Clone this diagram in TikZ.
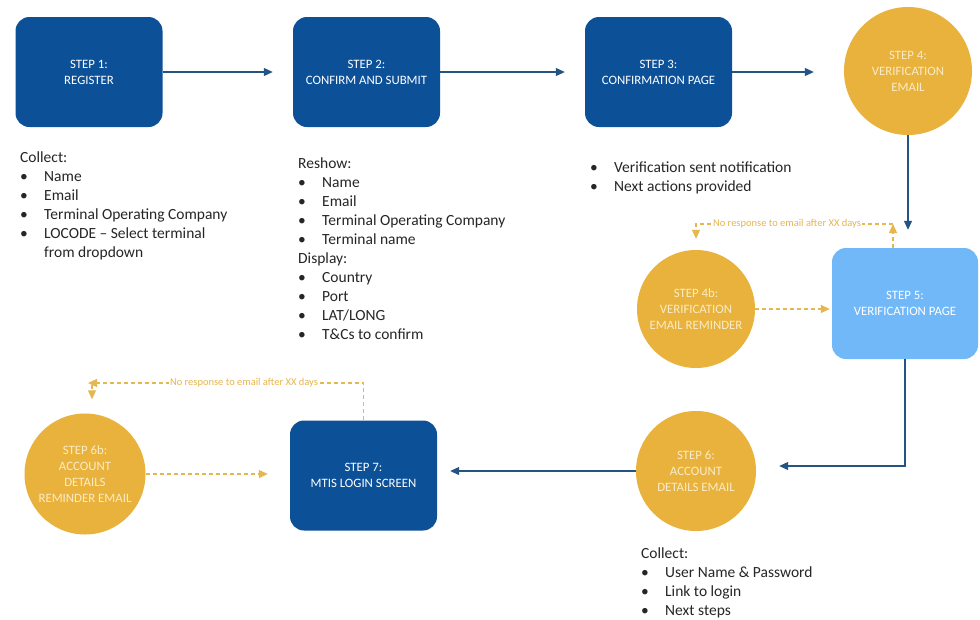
\documentclass[tikz,border=0pt]{standalone}
\usepackage{fontspec}
\setmainfont{Carlito}
\usetikzlibrary{arrows.meta,positioning,calc}
\definecolor{dblue}{RGB}{12,80,152}
\definecolor{lblue}{RGB}{112,184,248}
\definecolor{gold}{RGB}{232,178,60}
\definecolor{arrblue}{RGB}{36,84,132}
\definecolor{dashgold}{RGB}{230,182,80}
\definecolor{cream}{RGB}{250,236,200}
\newcommand{\bul}{\makebox[24pt][l]{\textbullet}}
\tikzset{
  x=1pt,y=-1pt,
  stepbox/.style={rectangle,rounded corners=14pt,fill=dblue,minimum width=147pt,minimum height=110pt,
    text=white,align=center,font=\fontsize{12.8}{16}\selectfont,inner sep=0pt},
  vbox/.style={stepbox,fill=lblue,minimum width=146pt,minimum height=111pt},
  goldcirc/.style={circle,fill=gold,text=cream,align=center,font=\fontsize{12.8}{16}\selectfont,inner sep=0pt},
  flow/.style={draw=arrblue,line width=1.2pt,-{Triangle[length=9pt,width=8pt]}},
  dflow/.style={draw=dashgold,line width=1.1pt,dash pattern=on 4pt off 3pt,-{Triangle[length=9pt,width=8pt]}},
  notelabel/.style={fill=white,text=dashgold,font=\fontsize{10.5}{12}\selectfont,inner sep=1pt},
  listtext/.style={anchor=north west,align=left,inner sep=0pt,font=\fontsize{15.5}{19}\selectfont,text=black!85}
}
\begin{document}
\begin{tikzpicture}
\useasboundingbox (0,0) rectangle (980,619);
\fill[white] (0,0) rectangle (980,619);
% nodes
\node[stepbox] (b1) at (89,72) {STEP 1:\\REGISTER};
\node[stepbox] (b2) at (366.5,72) {STEP 2:\\CONFIRM AND SUBMIT};
\node[stepbox] (b3) at (658.5,72) {STEP 3:\\CONFIRMATION PAGE};
\node[goldcirc,minimum size=128pt] (c4) at (908,71) {STEP 4:\\VERIFICATION\\EMAIL};
\node[vbox] (b5) at (905,303.5) {STEP 5:\\VERIFICATION PAGE};
\node[goldcirc,minimum size=118pt] (c4b) at (696,309) {STEP 4b:\\VERIFICATION\\EMAIL REMINDER};
\node[goldcirc,minimum size=120pt] (c6) at (696,471) {STEP 6:\\ACCOUNT\\DETAILS EMAIL};
\node[stepbox] (b7) at (363.5,475.5) {STEP 7:\\MTIS LOGIN SCREEN};
\node[goldcirc,minimum size=121pt] (c6b) at (85,474) {STEP 6b:\\ACCOUNT\\DETAILS\\REMINDER EMAIL};
% lists
\node[listtext] (l1) at (20,148.7) {\strut Collect:\\\bul Name\\\bul Email\\\bul Terminal Operating Company\\\bul LOCODE -- Select terminal\\\hspace*{24pt}from dropdown};
\node[listtext] (l2) at (298,154.7) {\strut Reshow:\\\bul Name\\\bul Email\\\bul Terminal Operating Company\\\bul Terminal name\\Display:\\\bul Country\\\bul Port\\\bul LAT/LONG\\\bul T\&Cs to confirm};
\node[listtext] (l3) at (590,158.7) {\strut\bul Verification sent notification\\\bul Next actions provided};
\node[listtext] (l4) at (641,544.5) {\strut Collect:\\\bul User Name \& Password\\\bul Link to login\\\bul Next steps};
% solid connectors
\draw[flow,shorten >=20pt] (b1.east) -- (b2.west);
\draw[flow,shorten >=20pt] (b2.east) -- (b3.west);
\draw[flow,shorten >=30pt] (b3.east) -- (b3.east -| c4.west);
\draw[flow,shorten >=18pt] (c4.south) -- (c4.south |- b5.north);
\draw[flow,shorten >=23pt] (b5.south) |- ([yshift=5pt]c6.east);
\draw[flow,shorten >=13pt] (c6.west) -- (c6.west -| b7.east);
% dashed connectors
\draw[dflow,shorten >=2pt] (c4b.east) -- (c4b.east -| b5.west);
\coordinate (t1) at (893,224);
\coordinate (t2) at (696,224);
\draw[dflow] ([xshift=-12pt]b5.north) -- (t1);
\draw[dflow,shorten >=11pt] (t1) -- (t2) -- (c4b.north);
\node[notelabel] (n1) at (787,224) {No response to email after XX days};
\draw[dflow,shorten >=22pt] (c6b.east) -- (c6b.east -| b7.west);
\coordinate (u1) at (363.5,383);
\coordinate (u2) at (88,383);
\coordinate (u3) at (92,385);
\draw[dflow] (b7.north) -- (u1) -- (u2);
\draw[dflow,shorten >=14pt] (u3) -- (u3 |- c6b.north);
\node[notelabel] (n2) at (244,383) {No response to email after XX days};
\end{tikzpicture}
\end{document}
